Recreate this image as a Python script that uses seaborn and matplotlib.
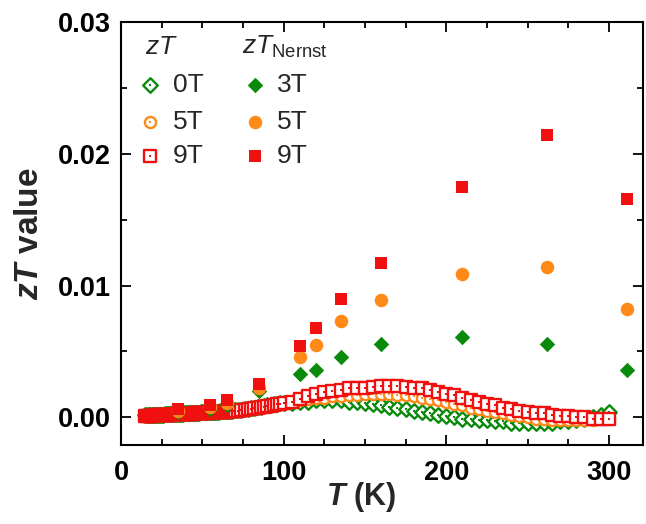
import numpy as np
import pandas as pd
import matplotlib
matplotlib.use('Agg')
import matplotlib.pyplot as plt
import seaborn as sns

# zT sweeps: dense below 70 K, then 2 K steps, then 5 K steps (K)
T_low = [15, 16, 17, 18, 19, 20, 21, 22, 23, 24, 25, 26, 27, 28, 29, 30, 31, 32, 33, 34,
         35, 36, 37, 38, 39, 40, 41, 42, 43, 44, 45, 46, 47, 48, 49, 50, 51, 52, 53, 54,
         55, 56, 57, 58, 59, 60, 61, 62, 63, 64, 65, 66, 67, 68, 69, 70]
T_mid = [72, 74, 76, 78, 80, 82, 84, 86, 88, 90, 92, 94, 96, 98]
T_high = [100, 105, 110, 115, 120, 125, 130, 135, 140, 145, 150, 155, 160, 165, 170, 175,
          180, 185, 190, 195, 200, 205, 210, 215, 220, 225, 230, 235, 240, 245, 250, 255,
          260, 265, 270, 275, 280, 285, 290, 295, 300]

zT_0T_low = [0.00014, 0.00015, 0.00015, 0.00016, 0.00017, 0.00017, 0.00018, 0.00019, 0.00019, 0.00020,
             0.00021, 0.00021, 0.00022, 0.00023, 0.00023, 0.00024, 0.00025, 0.00025, 0.00026, 0.00027,
             0.00027, 0.00028, 0.00029, 0.00029, 0.00030, 0.00031, 0.00031, 0.00032, 0.00033, 0.00033,
             0.00034, 0.00035, 0.00035, 0.00036, 0.00037, 0.00037, 0.00038, 0.00039, 0.00039, 0.00040,
             0.00041, 0.00041, 0.00042, 0.00043, 0.00043, 0.00044, 0.00045, 0.00045, 0.00046, 0.00047,
             0.00048, 0.00049, 0.00050, 0.00051, 0.00052, 0.00053]
zT_0T_mid = [0.00056, 0.00059, 0.00062, 0.00066, 0.00070, 0.00074, 0.00078, 0.00082, 0.00086,
             0.00090, 0.00094, 0.00099, 0.00104, 0.00108]
zT_0T_high = [0.0011, 0.0011, 0.0012, 0.0012, 0.0013, 0.0013, 0.0013, 0.0013, 0.0012, 0.0012,
              0.0011, 0.0010, 0.0009, 0.0008, 0.0007, 0.0006, 0.0005, 0.0004, 0.0003, 0.0002,
              0.0001, 0.0000, -0.0001, -0.0001, -0.0002, -0.0002, -0.0003, -0.0003, -0.0004, -0.0004,
              -0.0004, -0.0004, -0.0004, -0.0004, -0.0003, -0.0003, -0.0002, -0.0001, 0.0000, 0.0002, 0.0004]

zT_5T_low = [0.00012, 0.00013, 0.00013, 0.00014, 0.00015, 0.00015, 0.00016, 0.00017, 0.00017, 0.00018,
             0.00019, 0.00019, 0.00020, 0.00021, 0.00021, 0.00022, 0.00023, 0.00023, 0.00024, 0.00025,
             0.00025, 0.00026, 0.00027, 0.00027, 0.00028, 0.00029, 0.00029, 0.00030, 0.00031, 0.00031,
             0.00032, 0.00033, 0.00033, 0.00034, 0.00035, 0.00035, 0.00036, 0.00037, 0.00037, 0.00038,
             0.00039, 0.00039, 0.00040, 0.00041, 0.00041, 0.00042, 0.00043, 0.00043, 0.00044, 0.00045,
             0.00046, 0.00047, 0.00048, 0.00049, 0.00050, 0.00051]
zT_5T_mid = [0.00053, 0.00056, 0.00059, 0.00062, 0.00066, 0.00070, 0.00074, 0.00078, 0.00082,
             0.00086, 0.00090, 0.00095, 0.00100, 0.00105]
zT_5T_high = [0.0011, 0.0012, 0.0013, 0.0014, 0.0015, 0.0015, 0.0016, 0.0016, 0.0017, 0.0017,
              0.0018, 0.0018, 0.0018, 0.0018, 0.0017, 0.0017, 0.0016, 0.0015, 0.0014, 0.0013,
              0.0012, 0.0010, 0.0009, 0.0007, 0.0006, 0.0005, 0.0004, 0.0003, 0.0002, 0.0001,
              0.0000, -0.0001, -0.0001, -0.0002, -0.0002, -0.0002, -0.0002, -0.0002, -0.0002, -0.0001, -0.0001]

zT_9T_low = [0.00010, 0.00011, 0.00011, 0.00012, 0.00013, 0.00013, 0.00014, 0.00015, 0.00015, 0.00016,
             0.00017, 0.00017, 0.00018, 0.00019, 0.00019, 0.00020, 0.00021, 0.00021, 0.00022, 0.00023,
             0.00023, 0.00024, 0.00025, 0.00025, 0.00026, 0.00027, 0.00027, 0.00028, 0.00029, 0.00029,
             0.00030, 0.00031, 0.00031, 0.00032, 0.00033, 0.00033, 0.00034, 0.00035, 0.00035, 0.00036,
             0.00037, 0.00037, 0.00038, 0.00039, 0.00039, 0.00040, 0.00041, 0.00041, 0.00042, 0.00043,
             0.00044, 0.00045, 0.00046, 0.00047, 0.00048, 0.00049]
zT_9T_mid = [0.00051, 0.00054, 0.00057, 0.00060, 0.00064, 0.00068, 0.00072, 0.00076, 0.00080,
             0.00084, 0.00088, 0.00093, 0.00098, 0.00103]
zT_9T_high = [0.0011, 0.0012, 0.0014, 0.0016, 0.0018, 0.0019, 0.0020, 0.0021, 0.0022, 0.0022,
              0.0022, 0.0023, 0.0024, 0.0024, 0.0024, 0.0023, 0.0022, 0.0022, 0.0021, 0.0019,
              0.0018, 0.0017, 0.0015, 0.0013, 0.0012, 0.0010, 0.0009, 0.0007, 0.0006, 0.0005,
              0.0004, 0.0003, 0.0003, 0.0002, 0.0001, 0.0001, 0.0000, 0.0000, -0.0001, -0.0001, -0.0001]

# Nernst zT
T_nernst = [35, 55, 65, 85, 110, 120, 135, 160, 210, 262, 311]
zTN_3T = [0.0004, 0.0006, 0.0009, 0.0020, 0.0033, 0.0036, 0.0046, 0.0056, 0.0061, 0.0056, 0.0036]
zTN_5T = [0.0005, 0.0008, 0.0011, 0.0022, 0.0046, 0.0055, 0.0073, 0.0089, 0.0109, 0.0114, 0.0082]
zTN_9T = [0.0006, 0.0009, 0.0013, 0.0025, 0.0054, 0.0068, 0.0090, 0.0117, 0.0175, 0.0214, 0.0166]

GREEN = '#0a8a0a'
ORANGE = '#ff8a1a'
RED = '#f01010'

sns.set_theme(style='ticks')
plt.rcParams['font.family'] = ['Liberation Sans', 'DejaVu Sans']
plt.rcParams['mathtext.fontset'] = 'custom'
plt.rcParams['mathtext.rm'] = 'Liberation Sans'
plt.rcParams['mathtext.it'] = 'Liberation Sans:italic'
plt.rcParams['mathtext.bf'] = 'Liberation Sans:bold'
try:
    plt.rcParams['mathtext.bfit'] = 'Liberation Sans:bold:italic'
    BFIT = r'\mathbfit'
except KeyError:
    BFIT = r'\mathbf'

fig = plt.figure(figsize=(6.46, 5.24), dpi=100)
ax = fig.add_axes([121 / 646, 1 - 445 / 524, 522 / 646, 423 / 524])

sweep = pd.DataFrame({
    'T': T_low + T_mid + T_high,
    '0T': zT_0T_low + zT_0T_mid + zT_0T_high,
    '5T': zT_5T_low + zT_5T_mid + zT_5T_high,
    '9T': zT_9T_low + zT_9T_mid + zT_9T_high,
})
nernst = pd.DataFrame({'T': T_nernst, '3T': zTN_3T, '5T': zTN_5T, '9T': zTN_9T})

open_styles = [('0T', 'D', GREEN, 55), ('5T', 'o', ORANGE, 64), ('9T', 's', RED, 72)]
for col, mk, c, s in open_styles:
    sns.scatterplot(data=sweep, x='T', y=col, ax=ax, marker=mk, s=s, facecolor='white',
                    edgecolor=c, linewidth=1.7, legend=False, zorder=3)
    sns.scatterplot(data=sweep, x='T', y=col, ax=ax, marker='s', s=2, color=c,
                    linewidth=0, legend=False, zorder=3)

filled_styles = [('3T', 'D', GREEN, 62), ('5T', 'o', ORANGE, 95), ('9T', 's', RED, 75)]
for col, mk, c, s in filled_styles:
    sns.scatterplot(data=nernst, x='T', y=col, ax=ax, marker=mk, s=s, color=c,
                    linewidth=0, legend=False, zorder=4)

ax.set_xlim(0, 321)
ax.set_ylim(-0.0021, 0.03)
ax.set_xticks([0, 100, 200, 300])
ax.set_xticks(np.arange(0, 321, 25), minor=True)
ax.set_yticks([0.0, 0.01, 0.02, 0.03])
ax.set_yticks([0.005, 0.015, 0.025], minor=True)
ax.set_yticklabels(['0.00', '0.01', '0.02', '0.03'])

ax.tick_params(which='both', direction='in', top=True, right=True, width=1.3, colors='black')
ax.tick_params(which='major', length=7, labelsize=19.5)
ax.tick_params(axis='x', which='major', pad=11)
ax.tick_params(axis='y', which='major', pad=7)
ax.tick_params(which='minor', length=4)
for lab in ax.get_xticklabels() + ax.get_yticklabels():
    lab.set_fontweight('bold')
for sp in ax.spines.values():
    sp.set_linewidth(1.5)
    sp.set_color('black')

ax.set_xlabel(r'$' + BFIT + r'{T}$ (K)', fontsize=22, fontweight='bold')
ax.set_ylabel(r'$' + BFIT + r'{zT}$ value', fontsize=24, fontweight='bold')
ax.xaxis.set_label_coords(0.46, -0.083)
ax.yaxis.set_label_coords(-0.146, 0.5)

# two-column legend drawn by hand
ax.text(0.046, 0.941, r'$zT$', transform=ax.transAxes, fontsize=19, va='center', ha='left')
ax.text(0.232, 0.941, r'$zT_{\mathrm{Nernst}}$', transform=ax.transAxes, fontsize=19,
        va='center', ha='left')
rows = [0.851, 0.764, 0.683]
for (lab, mk, c, s), y in zip(open_styles, rows):
    ax.scatter([0.0556], [y], transform=ax.transAxes, marker=mk, s=s, facecolor='white',
               edgecolor=c, linewidth=1.7, clip_on=False, zorder=5)
    ax.scatter([0.0556], [y], transform=ax.transAxes, marker='s', s=2, color=c,
               linewidth=0, clip_on=False, zorder=5)
    ax.text(0.100, y, lab, transform=ax.transAxes, fontsize=19, va='center', ha='left')
for (lab, mk, c, s), y in zip(filled_styles, rows):
    ax.scatter([0.257], [y], transform=ax.transAxes, marker=mk, s=s, color=c,
               linewidth=0, clip_on=False, zorder=5)
    ax.text(0.299, y, lab, transform=ax.transAxes, fontsize=19, va='center', ha='left')

fig.savefig('out.png', dpi=100)
